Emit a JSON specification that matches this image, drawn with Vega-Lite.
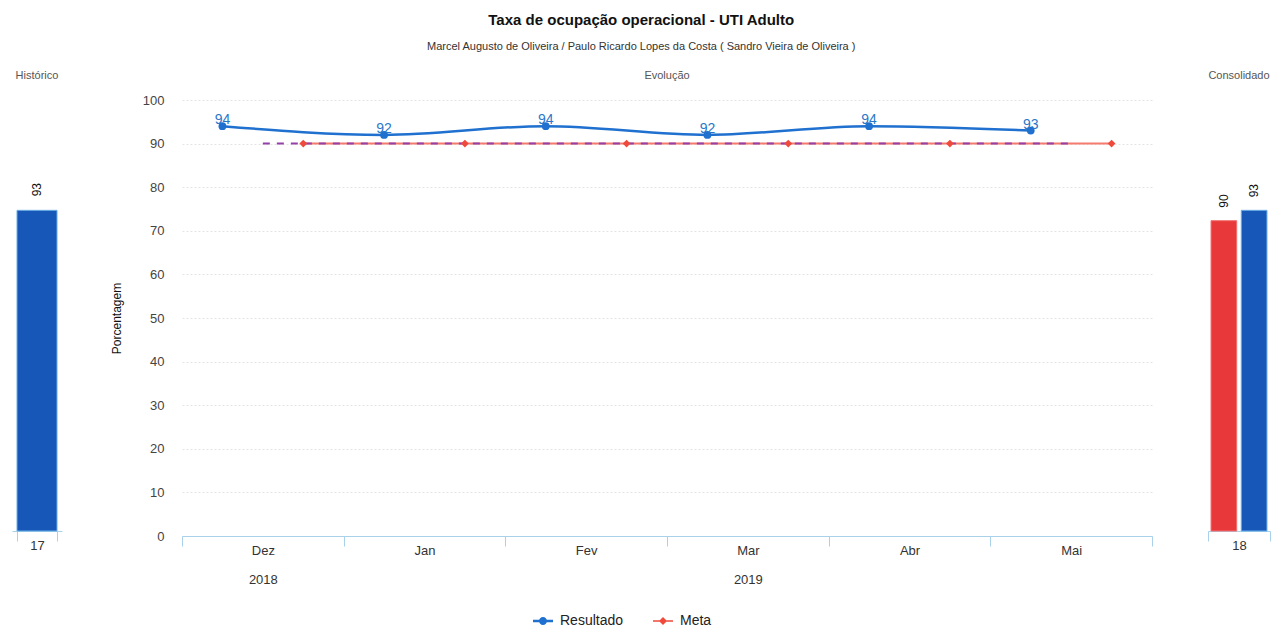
{
  "$schema": "https://vega.github.io/schema/vega-lite/v6.json",
  "background": "white",
  "padding": {"left": 12, "top": 13, "right": 5, "bottom": 5},
  "spacing": 48,
  "title": {
    "text": "Taxa de ocupação operacional - UTI Adulto",
    "subtitle": "Marcel Augusto de Oliveira / Paulo Ricardo Lopes da Costa ( Sandro Vieira de Oliveira )",
    "anchor": "middle",
    "frame": "bounds",
    "font": "Liberation Sans",
    "fontSize": 15,
    "fontWeight": "bold",
    "color": "#111",
    "subtitleFont": "Liberation Sans",
    "subtitleFontSize": 11,
    "subtitleColor": "#333",
    "subtitlePadding": 13,
    "offset": 18
  },
  "config": {
    "font": "Liberation Sans",
    "view": {"stroke": null},
    "title": {"fontSize": 11, "fontWeight": "normal", "color": "#555", "offset": 19, "anchor": "middle"}
  },
  "datasets": {
    "evolucao": [
      {"mes": "Dez", "serie": "Resultado", "valor": 94},
      {"mes": "Jan", "serie": "Resultado", "valor": 92},
      {"mes": "Fev", "serie": "Resultado", "valor": 94},
      {"mes": "Mar", "serie": "Resultado", "valor": 92},
      {"mes": "Abr", "serie": "Resultado", "valor": 94},
      {"mes": "Mai", "serie": "Resultado", "valor": 93},
      {"mes": "Dez", "serie": "Meta", "valor": 90},
      {"mes": "Jan", "serie": "Meta", "valor": 90},
      {"mes": "Fev", "serie": "Meta", "valor": 90},
      {"mes": "Mar", "serie": "Meta", "valor": 90},
      {"mes": "Abr", "serie": "Meta", "valor": 90},
      {"mes": "Mai", "serie": "Meta", "valor": 90}
    ],
    "historico": [
      {"periodo": "17", "serie": "Resultado", "valor": 93}
    ],
    "consolidado": [
      {"periodo": "18", "serie": "Meta", "valor": 90},
      {"periodo": "18", "serie": "Resultado", "valor": 93}
    ]
  },
  "hconcat": [
    {
      "width": 50,
      "height": 431,
      "title": "Histórico",
      "data": {"name": "historico"},
      "encoding": {
        "x": {
          "field": "periodo", "type": "nominal",
          "scale": {"paddingInner": 0.2, "paddingOuter": 0.1},
          "axis": {"title": null, "labelAngle": 0, "domainColor": "#a9d2ea", "tickColor": "#a9d2ea", "tickBand": "extent", "tickSize": 10, "labelFontSize": 13, "labelColor": "#333", "labelPadding": -2}
        },
        "y": {"field": "valor", "type": "quantitative", "scale": {"domain": [0, 125], "nice": false}, "axis": null}
      },
      "layer": [
        {"mark": {"type": "bar", "color": "#1757b8", "stroke": "#6aaee6", "strokeWidth": 1}},
        {"mark": {"type": "text", "angle": 270, "align": "left", "baseline": "middle", "dx": 14, "fontSize": 12, "color": "#111"},
         "encoding": {"text": {"field": "valor", "type": "quantitative"}}}
      ]
    },
    {
      "width": 970,
      "height": 436,
      "title": {"text": "Evolução", "offset": 13},
      "data": {"name": "evolucao"},
      "encoding": {
        "x": {
          "field": "mes", "type": "nominal",
          "sort": ["Dez", "Jan", "Fev", "Mar", "Abr", "Mai"],
          "scale": {"paddingInner": 0, "paddingOuter": 0},
          "axis": {"title": null, "labelAngle": 0, "domainColor": "#a9d2ea", "tickColor": "#a9d2ea", "tickBand": "extent", "tickSize": 10, "labelFontSize": 13, "labelColor": "#333", "labelPadding": -2, "labelLineHeight": 29,
            "labelExpr": "datum.value == 'Dez' ? ['Dez', '2018'] : datum.value == 'Mar' ? ['Mar', '2019'] : [datum.value, '']"}
        },
        "y": {
          "field": "valor", "type": "quantitative",
          "scale": {"domain": [0, 100], "nice": false},
          "axis": {"title": "Porcentagem", "tickCount": 10, "grid": true, "gridDash": [2, 2], "gridColor": "#e4e4e4", "domain": false, "ticks": false, "labelFontSize": 13, "labelColor": "#444", "labelPadding": 18, "titleFontSize": 12, "titleFontWeight": "normal", "titleColor": "#111", "titlePadding": 19}
        }
      },
      "layer": [
        {
          "transform": [{"filter": "datum.serie == 'Meta'"}],
          "mark": {"type": "line", "color": "#f47c6e", "strokeWidth": 2},
          "encoding": {"xOffset": {"field": "serie", "type": "nominal", "scale": {"type": "point", "domain": ["Resultado", "Meta"], "padding": 0.5}}}
        },
        {
          "transform": [{"filter": "datum.serie == 'Meta'"}],
          "mark": {"type": "line", "color": "#9340a8", "strokeWidth": 2, "strokeDash": [7, 7]}
        },
        {
          "transform": [{"filter": "datum.serie == 'Resultado'"}],
          "mark": {"type": "line", "color": "#1f70cf", "strokeWidth": 2.5, "interpolate": "monotone"},
          "encoding": {"xOffset": {"field": "serie", "type": "nominal", "scale": {"type": "point", "domain": ["Resultado", "Meta"], "padding": 0.5}}}
        },
        {
          "transform": [{"filter": "datum.serie == 'Meta'"}],
          "mark": {"type": "point", "shape": "diamond", "filled": true, "opacity": 1, "color": "#ef4a3c", "size": 60},
          "encoding": {"xOffset": {"field": "serie", "type": "nominal", "scale": {"type": "point", "domain": ["Resultado", "Meta"], "padding": 0.5}}}
        },
        {
          "transform": [{"filter": "datum.serie == 'Resultado'"}],
          "mark": {"type": "point", "shape": "circle", "filled": true, "opacity": 1, "color": "#1f70cf", "size": 60},
          "encoding": {"xOffset": {"field": "serie", "type": "nominal", "scale": {"type": "point", "domain": ["Resultado", "Meta"], "padding": 0.5}}}
        },
        {
          "transform": [{"filter": "datum.valor < 0"}],
          "mark": {"type": "point", "filled": true, "opacity": 1},
          "encoding": {
            "xOffset": {"field": "serie", "type": "nominal", "scale": {"type": "point", "domain": ["Resultado", "Meta"], "padding": 0.5}},
            "color": {"field": "serie", "type": "nominal", "scale": {"domain": ["Resultado", "Meta"], "range": ["#1f70cf", "#ef4a3c"]},
              "legend": {"title": null, "orient": "none", "legendX": 350, "legendY": 510, "direction": "horizontal", "labelFontSize": 14, "labelColor": "#222", "symbolSize": 400, "symbolOpacity": 1, "labelOffset": 6, "columnPadding": 26}},
            "shape": {"field": "serie", "type": "nominal", "scale": {"domain": ["Resultado", "Meta"], "range": ["M-1,-0.13 L1,-0.13 L1,0.13 L-1,0.13 Z M0.4,0 A0.4,0.4 0 1,1 -0.4,0 A0.4,0.4 0 1,1 0.4,0 Z", "M-1,-0.08 L1,-0.08 L1,0.08 L-1,0.08 Z M0,-0.4 L0.4,0 L0,0.4 L-0.4,0 Z"]},
              "legend": {"title": null, "orient": "none", "legendX": 350, "legendY": 510, "direction": "horizontal", "labelFontSize": 14, "labelColor": "#222", "symbolSize": 400, "symbolOpacity": 1, "labelOffset": 6, "columnPadding": 26}}
          }
        },
        {
          "transform": [{"filter": "datum.serie == 'Resultado'"}],
          "mark": {"type": "text", "baseline": "middle", "dy": -6, "fontSize": 14, "color": "#2a77c9"},
          "encoding": {
            "xOffset": {"field": "serie", "type": "nominal", "scale": {"type": "point", "domain": ["Resultado", "Meta"], "padding": 0.5}},
            "text": {"field": "valor", "type": "quantitative"}
          }
        }
      ]
    },
    {
      "width": 62,
      "height": 431,
      "title": "Consolidado",
      "data": {"name": "consolidado"},
      "layer": [
        {"mark": {"type": "bar", "strokeWidth": 1},
         "encoding": {
           "x": {
             "field": "periodo", "type": "nominal",
             "scale": {"paddingInner": 0, "paddingOuter": 0},
             "axis": {"title": null, "labelAngle": 0, "domainColor": "#a9d2ea", "tickColor": "#a9d2ea", "tickBand": "extent", "tickSize": 10, "labelFontSize": 13, "labelColor": "#333", "labelPadding": -2}
           },
           "xOffset": {"field": "serie", "type": "nominal", "scale": {"domain": ["Meta", "Resultado"], "paddingInner": 0.15, "paddingOuter": 0.1}},
           "y": {"field": "valor", "type": "quantitative", "stack": null, "scale": {"domain": [0, 125], "nice": false},
             "axis": {"title": null, "labels": false, "ticks": false, "domain": false, "grid": false, "minExtent": 7, "maxExtent": 7}},
           "fill": {"field": "serie", "type": "nominal", "scale": {"domain": ["Meta", "Resultado"], "range": ["#e8383a", "#1757b8"]}, "legend": null},
           "stroke": {"field": "serie", "type": "nominal", "scale": {"domain": ["Meta", "Resultado"], "range": ["#f07070", "#6aaee6"]}, "legend": null}
         }},
        {"mark": {"type": "text", "angle": 270, "align": "left", "baseline": "middle", "dx": 13, "fontSize": 12, "color": "#111"},
         "encoding": {
           "x": {"field": "periodo", "type": "nominal"},
           "xOffset": {"field": "serie", "type": "nominal"},
           "y": {"field": "valor", "type": "quantitative", "stack": null},
           "text": {"field": "valor", "type": "quantitative"}
         }}
      ]
    }
  ],
  "resolve": {"scale": {"color": "independent", "shape": "independent", "fill": "independent", "stroke": "independent", "y": "independent", "x": "independent", "xOffset": "independent"}}
}
